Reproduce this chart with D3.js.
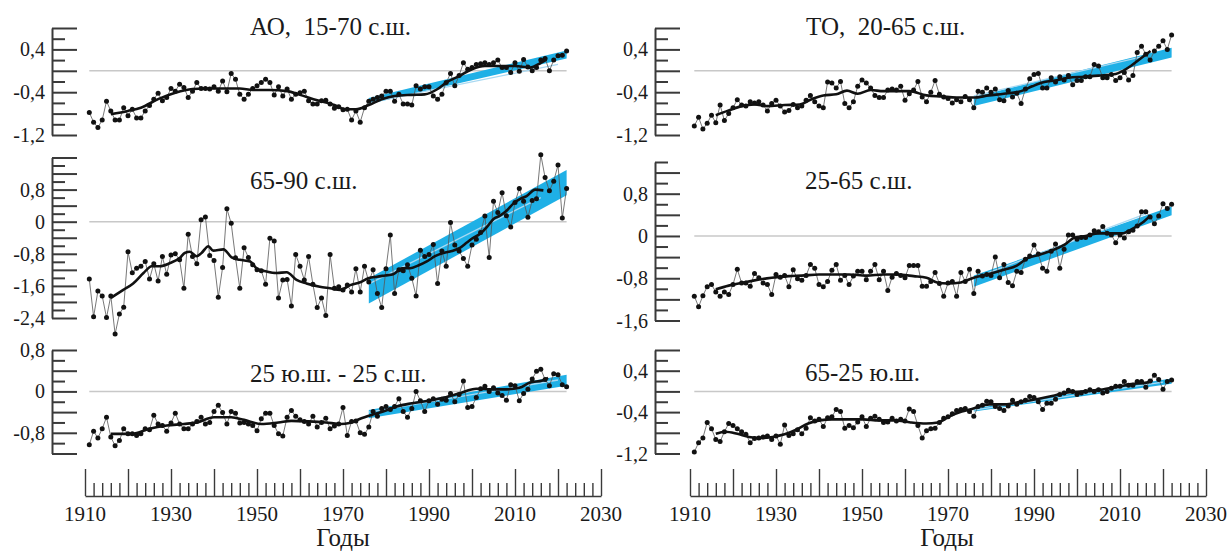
<!DOCTYPE html>
<html>
<head>
<meta charset="utf-8">
<script src="https://cdn.jsdelivr.net/npm/d3@7"></script>
<style>
  body { margin: 0; background: #fff; }
  svg text { font-family: "Liberation Serif", "Times New Roman", Times, serif; fill: #1a1a1a; }
</style>
</head>
<body>
<div id="chart-area"></div>
<script>
// years of the series
var years = d3.range(1911, 2023)

// АО, 15-70 с.ш.
var aoVals = [-0.78,-0.96,-1.06,-0.92,-0.57,-0.75,-0.92,-0.92,-0.69,-0.84,
  -0.72,-0.88,-0.88,-0.75,-0.65,-0.53,-0.42,-0.56,-0.50,-0.33,
  -0.38,-0.25,-0.31,-0.50,-0.38,-0.22,-0.33,-0.33,-0.34,-0.30,
  -0.38,-0.19,-0.39,-0.05,-0.16,-0.44,-0.53,-0.44,-0.33,-0.28,
  -0.22,-0.16,-0.22,-0.45,-0.30,-0.47,-0.34,-0.53,-0.44,-0.41,
  -0.38,-0.56,-0.62,-0.62,-0.56,-0.55,-0.62,-0.70,-0.67,-0.73,
  -0.72,-0.92,-0.75,-0.96,-0.69,-0.57,-0.53,-0.50,-0.47,-0.38,
  -0.38,-0.57,-0.44,-0.62,-0.62,-0.64,-0.28,-0.34,-0.30,-0.30,
  -0.47,-0.53,-0.44,-0.22,-0.05,-0.28,-0.09,0.15,0.03,0.06,
  0.12,0.13,0.15,0.12,0.15,0.20,0.06,0.06,-0.03,0.15,
  -0.01,0.21,0.07,0.00,0.06,0.20,0.23,0.00,0.20,0.28,
  0.29,0.37]
var aoSmooth = [[1916,-0.81],[1920,-0.75],[1923,-0.69],[1927,-0.53],[1931,-0.41],[1935,-0.34],[1938,-0.33],
  [1942,-0.33],[1946,-0.33],[1949,-0.36],[1953,-0.36],[1957,-0.38],[1960,-0.45],[1964,-0.55],[1968,-0.64],
  [1970.5,-0.72],[1973,-0.72],[1976,-0.64],[1979,-0.53],[1982,-0.47],[1986,-0.45],[1989,-0.44],[1992,-0.34],
  [1994,-0.22],[1997,-0.10],[2000,0.03],[2003,0.09],[2006,0.09],[2010,0.09],[2013.5,0.06],[2016,0.15],[2017.3,0.21]]
var aoTrend = [[1976,-0.62,-0.51],[2022,0.23,0.38]]
var aoThin = [[1976,-0.60],[2020,0.12]]

// 65-90 с.ш.
var arcticVals = [-1.43,-2.37,-1.73,-1.85,-2.39,-1.85,-2.80,-2.30,-2.13,-0.75,
  -1.27,-1.16,-1.11,-0.99,-1.43,-1.05,-1.48,-0.87,-1.31,-0.83,
  -0.80,-0.95,-1.66,-0.31,-0.87,-1.05,0.05,0.12,-0.84,-0.97,
  -1.88,-1.14,0.32,-0.04,-0.90,-1.66,-0.65,-0.89,-1.07,-1.20,
  -1.22,-1.56,-0.41,-0.48,-1.90,-1.45,-1.44,-2.10,-0.82,-1.11,
  -1.45,-0.87,-1.56,-2.14,-1.90,-2.34,-0.82,-1.66,-1.62,-1.70,
  -1.58,-1.75,-1.17,-1.75,-1.11,-1.50,-1.20,-1.79,-2.14,-1.17,
  -0.33,-1.79,-1.20,-1.22,-1.07,-1.41,-1.85,-0.71,-0.87,-0.82,
  -0.57,-1.54,-0.73,-1.11,-0.02,-0.58,-0.73,-0.92,-1.11,-0.58,
  -0.44,-0.27,0.14,-0.89,0.51,0.23,0.72,0.15,-0.13,0.48,
  0.83,0.51,0.11,0.53,0.57,1.67,1.10,0.77,1.01,1.41,
  0.09,0.83]
var arcticSmooth = [[1916,-1.90],[1918.9,-1.70],[1921.2,-1.54],[1923.6,-1.28],[1925.5,-1.11],[1927.4,-1.11],
  [1929.8,-1.03],[1932.1,-0.90],[1933.2,-0.78],[1934.4,-0.75],[1935.9,-0.86],[1937.1,-0.78],[1938.7,-0.61],
  [1939.8,-0.72],[1942.2,-0.69],[1944.1,-0.89],[1946,-0.95],[1948.4,-0.99],[1949.9,-1.16],[1952.2,-1.24],
  [1954.6,-1.28],[1956.9,-1.26],[1959.2,-1.45],[1961.5,-1.54],[1964.6,-1.62],[1967,-1.66],[1969.3,-1.70],
  [1971.7,-1.58],[1974,-1.51],[1975.9,-1.41],[1977.9,-1.37],[1979.8,-1.34],[1981.7,-1.31],[1983.7,-1.16],
  [1985.6,-1.16],[1987.5,-1.09],[1989.5,-0.99],[1991.4,-0.86],[1993.4,-0.78],[1995.3,-0.73],[1997.2,-0.65],
  [1998.8,-0.52],[2000.3,-0.40],[2001.9,-0.30],[2003.4,-0.14],[2005,0.07],[2006.5,0.15],[2008.1,0.28],
  [2009.6,0.45],[2011.2,0.57],[2012.7,0.64],[2014.7,0.80],[2016.6,0.78]]
var arcticTrend = [[1976,-2.04,-1.41],[2022,0.66,1.29]]
var arcticThin = [[1976,-1.55],[2016,0.60]]

// 25 ю.ш. - 25 с.ш.
var tropVals = [-1.03,-0.77,-0.90,-0.72,-0.50,-0.88,-1.05,-0.95,-0.72,-0.82,
  -0.82,-0.85,-0.82,-0.72,-0.74,-0.46,-0.63,-0.66,-0.77,-0.61,
  -0.42,-0.63,-0.72,-0.72,-0.63,-0.58,-0.50,-0.63,-0.60,-0.39,
  -0.27,-0.41,-0.63,-0.39,-0.42,-0.61,-0.60,-0.63,-0.66,-0.76,
  -0.53,-0.42,-0.42,-0.66,-0.82,-0.86,-0.50,-0.37,-0.48,-0.55,
  -0.58,-0.63,-0.48,-0.69,-0.60,-0.52,-0.72,-0.67,-0.63,-0.31,
  -0.85,-0.58,-0.57,-0.80,-0.83,-0.69,-0.39,-0.48,-0.33,-0.29,
  -0.35,-0.29,-0.14,-0.39,-0.50,-0.33,0.00,-0.18,-0.39,-0.18,
  -0.14,-0.25,-0.15,-0.17,-0.04,-0.20,-0.06,0.20,-0.31,-0.29,
  -0.12,0.05,0.10,0.00,0.07,-0.03,-0.08,-0.17,0.13,0.11,
  -0.18,-0.04,0.04,0.24,0.39,0.43,0.23,0.11,0.34,0.32,
  0.13,0.09]
var tropSmooth = [[1916,-0.82],[1921,-0.82],[1925,-0.72],[1929,-0.66],[1933,-0.63],[1936,-0.60],[1940,-0.50],
  [1944,-0.50],[1947,-0.55],[1951,-0.63],[1955,-0.60],[1958,-0.57],[1962,-0.58],[1966,-0.60],[1969.5,-0.63],
  [1971.5,-0.61],[1974,-0.53],[1976.5,-0.46],[1980,-0.37],[1982.5,-0.29],[1986,-0.23],[1990,-0.18],
  [1993.5,-0.12],[1997,-0.04],[2001,0.05],[2004.5,0.04],[2008,0.04],[2011,0.07],[2013.5,0.17],[2016.4,0.21],[2017.7,0.26]]
var tropTrend = [[1976,-0.52,-0.36],[2022,0.11,0.32]]
var tropThin = [[1976,-0.40],[2020,0.22]]

// ТО, 20-65 с.ш.
var toVals = [-1.03,-0.87,-1.09,-0.98,-0.83,-0.97,-0.64,-0.93,-0.80,-0.69,
  -0.54,-0.64,-0.66,-0.58,-0.60,-0.58,-0.64,-0.75,-0.61,-0.55,
  -0.66,-0.77,-0.74,-0.63,-0.69,-0.66,-0.55,-0.46,-0.58,-0.66,
  -0.69,-0.21,-0.23,-0.32,-0.20,-0.61,-0.69,-0.58,-0.29,-0.17,
  -0.23,-0.32,-0.46,-0.50,-0.50,-0.36,-0.34,-0.36,-0.29,-0.55,
  -0.43,-0.36,-0.20,-0.49,-0.58,-0.40,-0.18,-0.44,-0.49,-0.52,
  -0.60,-0.54,-0.58,-0.48,-0.54,-0.69,-0.38,-0.40,-0.32,-0.40,
  -0.34,-0.54,-0.56,-0.37,-0.49,-0.42,-0.61,-0.34,-0.15,-0.07,
  -0.05,-0.32,-0.32,-0.13,-0.21,-0.11,-0.17,-0.09,-0.26,-0.18,
  -0.18,-0.11,-0.11,0.12,0.09,-0.13,-0.13,-0.07,-0.18,-0.13,
  -0.03,-0.17,-0.09,0.34,0.46,0.31,0.20,0.37,0.46,0.56,
  0.40,0.67]
var toSmooth = [[1916,-0.83],[1919,-0.74],[1922,-0.66],[1925,-0.63],[1928,-0.66],[1932,-0.64],[1935.5,-0.63],
  [1938,-0.54],[1941,-0.46],[1944,-0.44],[1946.5,-0.37],[1949,-0.43],[1952,-0.36],[1955,-0.38],[1958,-0.38],
  [1961,-0.38],[1965,-0.46],[1968.5,-0.48],[1972,-0.50],[1976,-0.50],[1979.5,-0.46],[1983,-0.43],[1987,-0.38],
  [1989.6,-0.29],[1992.4,-0.21],[1995,-0.18],[1998,-0.13],[2001.5,-0.11],[2005,-0.09],[2009,-0.06],[2010.7,0.00],
  [2012.5,0.09],[2014.8,0.23],[2017.1,0.37]]
var toTrend = [[1976,-0.66,-0.49],[2022,0.25,0.43]]
var toThin = [[1976,-0.47],[2016,0.28]]

// 25-65 с.ш.
var nhVals = [-1.14,-1.34,-1.13,-0.96,-0.92,-1.06,-1.14,-1.06,-1.11,-0.92,
  -0.63,-0.89,-0.89,-0.95,-0.71,-0.79,-0.89,-0.92,-1.11,-0.73,
  -0.78,-0.75,-0.96,-0.64,-0.81,-0.84,-0.75,-0.54,-0.61,-0.92,
  -0.96,-0.86,-0.65,-0.54,-0.84,-0.75,-0.92,-0.76,-0.67,-0.67,
  -0.83,-0.67,-0.54,-0.83,-0.67,-1.03,-0.78,-0.71,-0.75,-0.79,
  -0.56,-0.56,-0.56,-0.95,-0.95,-0.86,-0.69,-0.90,-1.14,-0.89,
  -0.86,-1.14,-0.69,-0.86,-0.63,-1.09,-0.67,-0.76,-0.73,-0.75,
  -0.40,-0.79,-0.54,-0.88,-0.94,-0.67,-0.69,-0.44,-0.38,-0.17,
  -0.34,-0.61,-0.67,-0.29,-0.15,-0.61,-0.25,0.02,0.02,-0.06,
  -0.03,-0.03,0.02,0.10,0.08,0.18,0.05,0.02,-0.13,0.02,
  -0.04,0.08,0.11,0.19,0.46,0.46,0.36,0.23,0.38,0.61,
  0.52,0.60]
var nhSmooth = [[1916,-1.01],[1919,-0.94],[1922,-0.89],[1925,-0.84],[1929,-0.79],[1933,-0.76],[1936,-0.75],
  [1940,-0.73],[1944,-0.73],[1947,-0.73],[1951,-0.75],[1955,-0.73],[1958,-0.73],[1962,-0.76],[1965,-0.79],
  [1967.5,-0.88],[1970,-0.90],[1973,-0.88],[1976,-0.79],[1979,-0.73],[1983,-0.64],[1986,-0.56],[1988.5,-0.42],
  [1991,-0.36],[1994,-0.28],[1997,-0.17],[1999.5,-0.03],[2002,0.00],[2005,0.05],[2008,0.05],[2010.5,0.05],
  [2013,0.14],[2015.5,0.27],[2017,0.38]]
var nhTrend = [[1976,-0.96,-0.75],[2022,0.39,0.56]]
var nhThin = [[1976,-0.80],[2016,0.42]]

// 65-25 ю.ш.
var shVals = [-1.17,-0.99,-0.90,-0.60,-0.72,-0.93,-0.97,-0.78,-0.62,-0.66,
  -0.72,-0.78,-0.83,-0.99,-0.91,-0.90,-0.88,-0.86,-0.93,-0.86,
  -1.02,-0.65,-0.85,-0.82,-0.74,-0.82,-0.71,-0.51,-0.57,-0.54,
  -0.68,-0.51,-0.49,-0.35,-0.39,-0.71,-0.66,-0.70,-0.59,-0.49,
  -0.68,-0.52,-0.48,-0.54,-0.60,-0.59,-0.52,-0.57,-0.54,-0.57,
  -0.34,-0.39,-0.66,-0.90,-0.76,-0.72,-0.71,-0.60,-0.52,-0.49,
  -0.43,-0.37,-0.35,-0.33,-0.39,-0.48,-0.29,-0.27,-0.19,-0.20,
  -0.29,-0.33,-0.37,-0.28,-0.17,-0.25,-0.20,-0.17,-0.10,-0.12,
  -0.20,-0.35,-0.23,-0.23,-0.15,-0.06,-0.03,0.02,0.00,-0.06,
  -0.03,0.00,0.03,0.00,0.03,-0.03,0.00,0.06,0.10,0.10,
  0.19,0.12,0.12,0.19,0.19,0.08,0.20,0.31,0.23,0.04,
  0.19,0.22]
var shSmooth = [[1916,-0.82],[1918.2,-0.78],[1921,-0.82],[1923.7,-0.88],[1926.5,-0.90],[1929.2,-0.88],
  [1932,-0.83],[1934.7,-0.74],[1937.5,-0.62],[1940.2,-0.56],[1943,-0.54],[1946.6,-0.54],[1950.3,-0.54],
  [1953.9,-0.56],[1957.6,-0.56],[1961.3,-0.60],[1964.9,-0.62],[1967.7,-0.60],[1970.4,-0.48],[1973.2,-0.39],
  [1975.9,-0.33],[1979.6,-0.25],[1983.2,-0.25],[1986.9,-0.20],[1990.6,-0.15],[1994.2,-0.09],[1997.9,-0.02],
  [2001.6,0.00],[2005.2,0.03],[2008.9,0.08],[2012.6,0.14],[2016.2,0.17],[2017.6,0.22]]
var shTrend = [[1976,-0.39,-0.33],[2022,0.15,0.25]]
var shThin = [[1976,-0.36],[2020,0.18]]

// x axis ticks and labels
var yearTicks = d3.range(1910, 2031, 2)
var yearLabels = [1910, 1930, 1950, 1970, 1990, 2010, 2030]

// layout
var W = 1227, H = 551
var serif = "'Liberation Serif', 'Times New Roman', Times, serif"
var columns = [
  { axisX: 52, x: d3.scaleLinear().domain([1910, 2030]).range([85, 601]), years: 343 },
  { axisX: 655, x: d3.scaleLinear().domain([1910, 2030]).range([690, 1206]), years: 947 }
]
var panels = [
  { col: 0, title: "АО,  15-70 с.ш.", tx: 250, ty: 35, vals: aoVals, smooth: aoSmooth, trend: aoTrend, thin: aoThin,
    dom: [-1.2, 0.8], rng: [135, 28], labels: [0.4, -0.4, -1.2] },
  { col: 0, title: "65-90 с.ш.", tx: 250, ty: 189, vals: arcticVals, smooth: arcticSmooth, trend: arcticTrend, thin: arcticThin,
    dom: [-2.4, 1.6], rng: [318, 157.5], labels: [0.8, 0, -0.8, -1.6, -2.4] },
  { col: 0, title: "25 ю.ш. - 25 с.ш.", tx: 250, ty: 382, vals: tropVals, smooth: tropSmooth, trend: tropTrend, thin: tropThin,
    dom: [-1.2, 0.8], rng: [453.5, 350], labels: [0.8, 0, -0.8] },
  { col: 1, title: "ТО,  20-65 с.ш.", tx: 806, ty: 35, vals: toVals, smooth: toSmooth, trend: toTrend, thin: toThin,
    dom: [-1.2, 0.8], rng: [135, 28], labels: [0.4, -0.4, -1.2] },
  { col: 1, title: "25-65 с.ш.", tx: 805, ty: 189, vals: nhVals, smooth: nhSmooth, trend: nhTrend, thin: nhThin,
    dom: [-1.6, 1.4], rng: [320.5, 162], labels: [0.8, 0, -0.8, -1.6] },
  { col: 1, title: "65-25 ю.ш.", tx: 805, ty: 381, vals: shVals, smooth: shSmooth, trend: shTrend, thin: shThin,
    dom: [-1.2, 0.8], rng: [453.5, 350], labels: [0.4, -0.4, -1.2] }
]

var axisColor = "#3a3a3a"

// create svg
var svg = d3.select("#chart-area")
  .append("svg")
    .attr("width", W)
    .attr("height", H)
    .attr("font-family", serif)

function fmt(v) {
  return v === 0 ? "0" : String(v).replace(".", ",")
}

panels.forEach(function (p) {
  var col = columns[p.col]
  var x = col.x
  var y = d3.scaleLinear().domain(p.dom).range(p.rng)
  var g = svg.append("g")

  // Y axis: ticks every 0.2, long ones every 0.4
  var tickVals = d3.range(Math.round(p.dom[0] * 5), Math.round(p.dom[1] * 5) + 1).map(function (k) { return k / 5 })
  var yAxis = d3.axisRight(y)
    .tickValues(tickVals)
    .tickSize(25)
    .tickSizeOuter(0)
    .tickFormat("")
  var ya = g.append("g")
    .attr("transform", "translate(" + col.axisX + ",0)")
    .call(yAxis)
  ya.select(".domain").attr("stroke", axisColor).attr("stroke-width", 2)
  ya.selectAll(".tick line")
    .attr("stroke", axisColor)
    .attr("stroke-width", 2)
    .attr("x2", function (d) { return Math.round(d * 5) % 2 === 0 ? 25 : 13 })

  // Y labels
  g.selectAll(".ylab")
    .data(p.labels)
    .enter().append("text")
      .attr("class", "ylab")
      .attr("x", col.axisX - 7)
      .attr("y", function (d) { return y(d) })
      .attr("dy", "0.35em")
      .attr("text-anchor", "end")
      .attr("font-family", serif)
      .attr("font-size", "20px")
      .text(fmt)

  // zero line
  g.append("line")
    .attr("x1", x(years[0]))
    .attr("x2", x(years[years.length - 1]))
    .attr("y1", y(0))
    .attr("y2", y(0))
    .attr("stroke", "#c8c8c8")
    .attr("stroke-width", 1.5)

  // trend band
  var band = d3.area()
    .x(function (d) { return x(d[0]) })
    .y0(function (d) { return y(d[1]) })
    .y1(function (d) { return y(d[2]) })
  g.append("path")
    .attr("d", band(p.trend))
    .attr("fill", "#1fb0e6")

  g.append("path")
    .attr("d", d3.line()
      .x(function (d) { return x(d[0]) })
      .y(function (d) { return y(d[1]) })(p.thin))
    .attr("fill", "none")
    .attr("stroke", "#a9d9f2")
    .attr("stroke-width", 1.3)

  // yearly values
  var pts = years.map(function (yr, i) { return [yr, p.vals[i]] })
  g.append("path")
    .attr("d", d3.line()
      .x(function (d) { return x(d[0]) })
      .y(function (d) { return y(d[1]) })(pts))
    .attr("fill", "none")
    .attr("stroke", "#555")
    .attr("stroke-width", 0.8)

  g.selectAll("circle")
    .data(pts)
    .enter().append("circle")
      .attr("cx", function (d) { return x(d[0]) })
      .attr("cy", function (d) { return y(d[1]) })
      .attr("r", 2.5)
      .attr("fill", "#111")

  // smoothed curve
  g.append("path")
    .attr("d", d3.line()
      .curve(d3.curveMonotoneX)
      .x(function (d) { return x(d[0]) })
      .y(function (d) { return y(d[1]) })(p.smooth))
    .attr("fill", "none")
    .attr("stroke", "#111")
    .attr("stroke-width", 2.6)

  // title
  g.append("text")
    .attr("x", p.tx)
    .attr("y", p.ty)
    .attr("font-family", serif)
    .attr("font-size", "25px")
    .style("white-space", "pre")
    .text(p.title)
})

// X axes
columns.forEach(function (col) {
  var xAxisCall = d3.axisTop(col.x)
    .tickValues(yearTicks)
    .tickSize(13)
    .tickSizeOuter(0)
    .tickFormat("")
  var xa = svg.append("g")
    .attr("transform", "translate(0,496)")
    .call(xAxisCall)
  xa.select(".domain").attr("stroke", axisColor).attr("stroke-width", 1.6)
  xa.selectAll(".tick line")
    .attr("stroke", axisColor)
    .attr("stroke-width", 1.4)
    .attr("y2", function (d) { return d % 10 === 0 ? -27 : -13 })

  svg.selectAll(null)
    .data(yearLabels)
    .enter().append("text")
      .attr("x", function (d) { return col.x(d) })
      .attr("y", 521)
      .attr("text-anchor", "middle")
      .attr("font-family", serif)
      .attr("font-size", "21px")
      .text(function (d) { return d })

  svg.append("text")
    .attr("x", col.years)
    .attr("y", 546)
    .attr("text-anchor", "middle")
    .attr("font-family", serif)
    .attr("font-size", "25px")
    .text("Годы")
})
</script>
</body>
</html>
